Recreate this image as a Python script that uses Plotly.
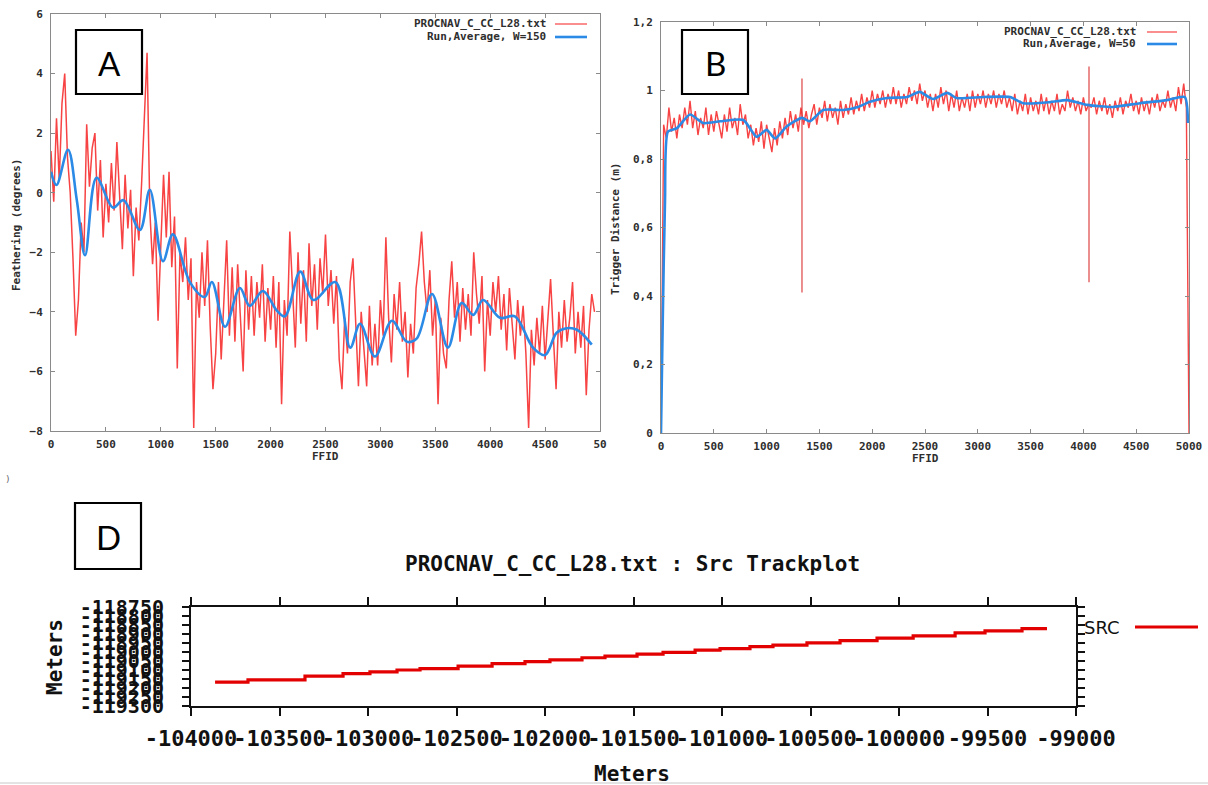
import plotly.graph_objects as go

W, H = 1208, 785


def fx(p):
    return p / W


def fy(p):
    return 1 - p / H


# ---------------- Panel A : Feathering ----------------
a_red = [1.4, -0.3, 2.5, 0.4, 3.0, 4.0, 1.2, 0.0, -2.2, -4.8,
         -3.6, -1.0, -2.0, 2.3, 0.2, 1.5, 2.0, -0.6, 1.1, -1.5,
         0.3, -1.0, 1.0, -0.6, 1.7, -0.3, -1.9, 0.6, -1.2, 0.1,
         -2.8, -0.5, -1.6, 0.3, 2.4, 4.7, -0.6, -2.4, -1.0, -4.3,
         -1.8, 0.6, -1.5, 0.7, -2.5, -0.8, -5.9, -2.0, -3.0, -1.5,
         -3.6, -2.2, -7.9, -3.0, -4.2, -2.0, -3.8, -1.6, -4.5, -6.6,
         -5.4, -3.0, -5.6, -3.5, -1.6, -4.8, -2.5, -5.0, -2.4, -4.2,
         -6.0, -2.6, -4.6, -2.8, -4.8, -3.0, -4.2, -2.4, -5.0, -3.2,
         -4.6, -2.8, -5.2, -3.0, -7.1, -3.6, -4.8, -1.3, -3.4, -5.2,
         -2.0, -4.4, -2.6, -5.0, -1.7, -3.8, -2.4, -4.6, -2.2, -3.4,
         -1.4, -3.8, -2.6, -4.4, -2.8, -5.6, -6.6, -4.2, -5.4, -3.0,
         -2.2, -4.6, -6.5, -4.0, -5.2, -6.5, -3.8, -5.8, -4.4, -5.8,
         -3.6, -4.8, -1.5, -4.2, -5.7, -3.4, -4.6, -3.0, -5.0, -4.0,
         -6.2, -4.4, -5.4, -3.2, -2.4, -1.3, -3.0, -4.0, -2.6, -4.8,
         -3.6, -7.1, -4.2, -5.4, -5.9, -3.6, -2.3, -4.2, -3.0, -5.0,
         -3.2, -4.6, -3.4, -4.8, -2.0, -3.4, -4.4, -2.8, -6.0, -3.6,
         -4.8, -3.0, -4.0, -2.8, -4.6, -3.4, -5.3, -3.2, -4.4, -5.6,
         -3.6, -4.8, -3.8, -5.4, -7.9, -4.6, -5.8, -4.2, -5.4, -3.8,
         -5.6, -4.4, -2.9, -4.8, -6.6, -4.0, -5.2, -3.6, -5.0, -4.2,
         -3.0, -5.4, -4.0, -5.2, -3.8, -6.8, -4.6, -3.4, -4.0]
a_red_ffid = list(range(0, 25 * len(a_red), 25))

a_avg_ffid = [0, 50, 155, 235, 310, 415, 565, 660, 810, 900, 1020, 1110, 1265,
              1400, 1465, 1585, 1720, 1810, 1930, 2055, 2130, 2270, 2390, 2590,
              2725, 2815, 2950, 3105, 3240, 3330, 3470, 3615, 3740, 3845, 3935,
              4090, 4225, 4390, 4500, 4605, 4695, 4790, 4925]
a_avg = [0.7, 0.26, 1.44, -0.25, -2.1, 0.5, -0.5, -0.25, -1.25, 0.1, -2.3, -1.4,
         -3.0, -3.5, -3.0, -4.5, -3.2, -3.8, -3.3, -3.95, -4.15, -2.65, -3.6,
         -3.0, -5.2, -4.4, -5.5, -4.3, -5.0, -4.9, -3.4, -5.2, -3.7, -4.1, -3.6,
         -4.2, -4.15, -5.2, -5.45, -4.7, -4.55, -4.6, -5.1]

a_xticks = [0, 500, 1000, 1500, 2000, 2500, 3000, 3500, 4000, 4500, 5000]
a_xticktext = ["0", "500", "1000", "1500", "2000", "2500", "3000", "3500",
               "4000", "4500", "50"]
a_yticks = [-8, -6, -4, -2, 0, 2, 4, 6]

# ---------------- Panel B : Trigger distance ----------------
b_red = [0.0, 0.90, 0.86, 0.95, 0.88, 0.92, 0.86, 0.93, 0.89, 0.95,
         0.90, 0.97, 0.89, 0.94, 0.87, 0.92, 0.89, 0.95, 0.87, 0.93,
         0.88, 0.94, 0.90, 0.86, 0.93, 0.88, 0.95, 0.89, 0.92, 0.87,
         0.96, 0.90, 0.93, 0.86, 0.90, 0.84, 0.89, 0.85, 0.91, 0.83,
         0.90, 0.86, 0.82, 0.89, 0.84, 0.91, 0.86, 0.92, 0.87, 0.94,
         0.89, 0.93, 0.88, 0.95, 0.90, 0.94, 0.89, 0.93, 0.96, 0.90,
         0.95, 0.92, 0.97, 0.91, 0.96, 0.92, 0.95, 0.90, 0.97, 0.92,
         0.96, 0.93, 0.98, 0.93, 0.97, 0.94, 0.99, 0.94, 0.98, 0.95,
         1.00, 0.95, 0.99, 0.96, 1.00, 0.95, 0.99, 0.96, 1.01, 0.96,
         1.00, 0.95, 0.99, 0.96, 1.01, 0.97, 1.00, 0.96, 1.02, 0.97,
         1.00, 0.95, 0.99, 0.94, 0.99, 0.95, 1.01, 0.96, 1.00, 0.94,
         0.99, 0.95, 1.00, 0.94, 0.98, 0.95, 0.99, 0.94, 1.00, 0.95,
         0.99, 0.96, 1.00, 0.95, 0.99, 0.96, 1.00, 0.95, 0.99, 0.96,
         1.00, 0.95, 0.98, 0.94, 0.99, 0.93, 0.97, 0.94, 0.99, 0.93,
         0.98, 0.94, 0.97, 0.93, 0.99, 0.94, 0.98, 0.93, 0.97, 0.94,
         0.99, 0.93, 0.96, 0.94, 1.00, 0.95, 0.98, 0.94, 0.97, 0.93,
         0.98, 0.94, 0.96, 0.95, 0.98, 0.93, 0.97, 0.94, 0.98, 0.93,
         0.96, 0.92, 0.97, 0.94, 0.98, 0.93, 0.97, 0.95, 0.99, 0.94,
         0.97, 0.93, 0.98, 0.94, 0.97, 0.93, 0.98, 0.95, 0.99, 0.94,
         0.97, 0.95, 1.00, 0.95, 0.98, 0.94, 1.01, 0.96, 1.02, 0.95,
         0.0]
b_red_ffid = list(range(0, 25 * len(b_red), 25))

b_spike1_ffid = [1335, 1335]
b_spike1 = [1.035, 0.41]
b_spike2_ffid = [4053, 4053]
b_spike2 = [1.07, 0.44]

b_avg_ffid = [0, 15, 38, 66, 150, 275, 400, 560, 780, 905, 1000, 1080, 1190,
              1335, 1410, 1535, 1725, 1865, 1980, 2140, 2330, 2450, 2575, 2710,
              2800, 3050, 3305, 3430, 3685, 3845, 4035, 4280, 4535, 4790, 4960,
              4990]
b_avg = [0.0, 0.3, 0.68, 0.88, 0.89, 0.93, 0.905, 0.91, 0.914, 0.865, 0.885,
         0.86, 0.895, 0.92, 0.91, 0.943, 0.943, 0.952, 0.967, 0.978, 0.981,
         0.996, 0.975, 0.993, 0.978, 0.981, 0.981, 0.963, 0.966, 0.972, 0.958,
         0.952, 0.963, 0.972, 0.981, 0.905]

b_xticks = [0, 500, 1000, 1500, 2000, 2500, 3000, 3500, 4000, 4500, 5000]
b_yticks = [0, 0.2, 0.4, 0.6, 0.8, 1.0, 1.2]
b_yticktext = ["0", "0,2", "0,4", "0,6", "0,8", "1", "1,2"]

# ---------------- Panel D : Src trackplot ----------------
d_x = [-103864, -103678, -103356, -103141, -102989, -102836, -102706, -102491,
       -102299, -102113, -101972, -101791, -101661, -101480, -101333, -101152,
       -101011, -100842, -100712, -100520, -100333, -100124, -99920, -99683,
       -99514, -99305, -99164]
d_y = [-119167, -119155, -119134, -119120, -119110, -119100, -119092, -119078,
       -119065, -119053, -119044, -119032, -119023, -119012, -119002, -118990,
       -118981, -118970, -118962, -118949, -118937, -118923, -118910, -118894,
       -118883, -118870, -118870]

d_xticks = list(range(-104000, -98999, 500))
d_xticktext = ["-" + str(abs(v)) for v in d_xticks]
d_yticks = list(range(-119300, -118749, 50))
d_yticktext = ["-" + str(abs(v)) for v in d_yticks]

RED = "rgba(245,20,20,0.8)"
BLUE = "#2a8ae6"
MONO = "DejaVu Sans Mono"
small_font = dict(family=MONO, size=11, color="#2e2e2e", weight="bold")
big_font = dict(family=MONO, size=22, color="#111111", weight="bold")

fig = go.Figure()

# Panel A traces
fig.add_trace(go.Scatter(x=a_red_ffid, y=a_red, mode="lines",
                         line=dict(color=RED, width=1.5),
                         name="PROCNAV_C_CC_L28.txt", xaxis="x", yaxis="y"))
fig.add_trace(go.Scatter(x=a_avg_ffid, y=a_avg, mode="lines",
                         line=dict(color=BLUE, width=2.6, shape="spline", smoothing=1.0),
                         name="Run,Average, W=150", xaxis="x", yaxis="y"))

# Panel B traces
fig.add_trace(go.Scatter(x=b_red_ffid, y=b_red, mode="lines",
                         line=dict(color=RED, width=1.4),
                         name="PROCNAV_C_CC_L28.txt", xaxis="x2", yaxis="y2"))
for sx, sy in ((b_spike1_ffid, b_spike1), (b_spike2_ffid, b_spike2)):
    fig.add_trace(go.Scatter(x=sx, y=sy, mode="lines",
                             line=dict(color="rgba(220,50,50,0.85)", width=1.3),
                             showlegend=False, xaxis="x2", yaxis="y2"))
fig.add_trace(go.Scatter(x=b_avg_ffid, y=b_avg, mode="lines",
                         line=dict(color=BLUE, width=2.6, shape="spline", smoothing=0.6),
                         name="Run,Average, W=50", xaxis="x2", yaxis="y2"))

# Panel D trace
fig.add_trace(go.Scatter(x=d_x, y=d_y, mode="lines",
                         line=dict(color="#e30000", width=3.2, shape="hv"),
                         name="SRC", xaxis="x3", yaxis="y3"))

gray_axis = dict(showline=True, linecolor="#8a8a8a", linewidth=1, mirror="ticks",
                 ticks="inside", ticklen=4, tickcolor="#8a8a8a", showgrid=False,
                 zeroline=False, tickfont=small_font, tickangle=0, automargin=False)
black_axis = dict(showline=True, linecolor="#111111", linewidth=2, mirror="ticks",
                  ticks="outside", ticklen=8, tickwidth=2, tickcolor="#111111",
                  showgrid=False, zeroline=False, tickangle=0, automargin=False)

fig.update_layout(
    width=W, height=H, margin=dict(l=0, r=0, t=0, b=0, autoexpand=False),
    paper_bgcolor="white", plot_bgcolor="white", showlegend=False,
    xaxis=dict(gray_axis, domain=[fx(51), fx(600)], range=[0, 5000],
               tickmode="array", tickvals=a_xticks, ticktext=a_xticktext,
               anchor="y", ticklabelstandoff=3),
    yaxis=dict(gray_axis, domain=[fy(431), fy(14)], range=[-8, 6],
               tickmode="array", tickvals=a_yticks, anchor="x",
               ticklabelstandoff=5),
    xaxis2=dict(gray_axis, domain=[fx(661), fx(1189)], range=[0, 5000],
                tickmode="array", tickvals=b_xticks, anchor="y2",
                ticklabelstandoff=3),
    yaxis2=dict(gray_axis, domain=[fy(433), fy(22)], range=[0, 1.2],
                tickmode="array", tickvals=b_yticks, ticktext=b_yticktext,
                anchor="x2", ticklabelstandoff=5),
    xaxis3=dict(black_axis, domain=[fx(191), fx(1076)], range=[-104000, -99000],
                tickmode="array", tickvals=d_xticks, ticktext=d_xticktext,
                tickfont=big_font, anchor="y3", ticklabelstandoff=4),
    yaxis3=dict(black_axis, domain=[fy(706), fy(607)], range=[-119300, -118750],
                tickmode="array", tickvals=d_yticks, ticktext=d_yticktext,
                tickfont=dict(big_font, size=20), anchor="x3",
                ticklabelstandoff=14, ticklen=7),
)

ann = []
shapes = []

# axis titles
ann.append(dict(text="Feathering (degrees)", x=fx(17), y=fy(225), textangle=-90,
                font=small_font))
ann.append(dict(text="FFID", x=fx(325), y=fy(456), font=small_font))
ann.append(dict(text="Trigger Distance (m)", x=fx(616), y=fy(229), textangle=-90,
                font=small_font))
ann.append(dict(text="FFID", x=fx(925), y=fy(458), font=small_font))
ann.append(dict(text="Meters", x=fx(55), y=fy(657), textangle=-90,
                font=dict(big_font, size=21)))
ann.append(dict(text="Meters", x=fx(632), y=fy(774), font=dict(big_font, size=21)))
ann.append(dict(text="PROCNAV_C_CC_L28.txt : Src Trackplot", x=fx(632), y=fy(564),
                font=dict(big_font, size=21)))

# legends (gnuplot style: text then sample)
for (txt, y, col, w, x_end, s0, s1) in [
        ("PROCNAV_C_CC_L28.txt", 24, RED, 1.2, 548, 555, 587),
        ("Run,Average, W=150", 37, BLUE, 2.6, 548, 555, 587),
        ("PROCNAV_C_CC_L28.txt", 32, RED, 1.2, 1138, 1147, 1177),
        ("Run,Average, W=50", 44, BLUE, 2.6, 1138, 1147, 1177)]:
    ann.append(dict(text=txt, x=fx(x_end), y=fy(y), xanchor="right", font=small_font))
    shapes.append(dict(type="line", xref="paper", yref="paper", x0=fx(s0), x1=fx(s1),
                       y0=fy(y), y1=fy(y), line=dict(color=col, width=w)))

ann.append(dict(text="SRC", x=fx(1082), y=fy(627), xanchor="left",
                font=dict(family="DejaVu Sans", size=18, color="#111111")))
shapes.append(dict(type="line", xref="paper", yref="paper", x0=fx(1135), x1=fx(1198),
                   y0=fy(627), y1=fy(627), line=dict(color="#e30000", width=3.2)))

# panel label boxes
for (lab, x0, y0, x1, y1) in [("A", 76, 30, 142, 94), ("B", 682, 30, 748, 94),
                              ("D", 75, 503, 141, 569)]:
    shapes.append(dict(type="rect", xref="paper", yref="paper", x0=fx(x0), x1=fx(x1),
                       y0=fy(y1), y1=fy(y0), fillcolor="white",
                       line=dict(color="black", width=2.2), layer="above"))
    ann.append(dict(text=lab, x=fx((x0 + x1) / 2), y=fy((y0 + y1) / 2 + 1),
                    font=dict(family="Lato", size=33, color="black")))

# stray marks of the source picture
ann.append(dict(text=")", x=fx(8), y=fy(479), font=dict(family="DejaVu Sans", size=9,
                                                       color="#666666")))
shapes.append(dict(type="line", xref="paper", yref="paper", x0=0, x1=1,
                   y0=fy(783), y1=fy(783), line=dict(color="#c8c8c8", width=1)))

for a in ann:
    a.setdefault("xref", "paper")
    a.setdefault("yref", "paper")
    a.setdefault("showarrow", False)
    a.setdefault("xanchor", "center")
    a.setdefault("yanchor", "middle")

fig.update_layout(annotations=ann, shapes=shapes)
fig.write_html("out.html")
